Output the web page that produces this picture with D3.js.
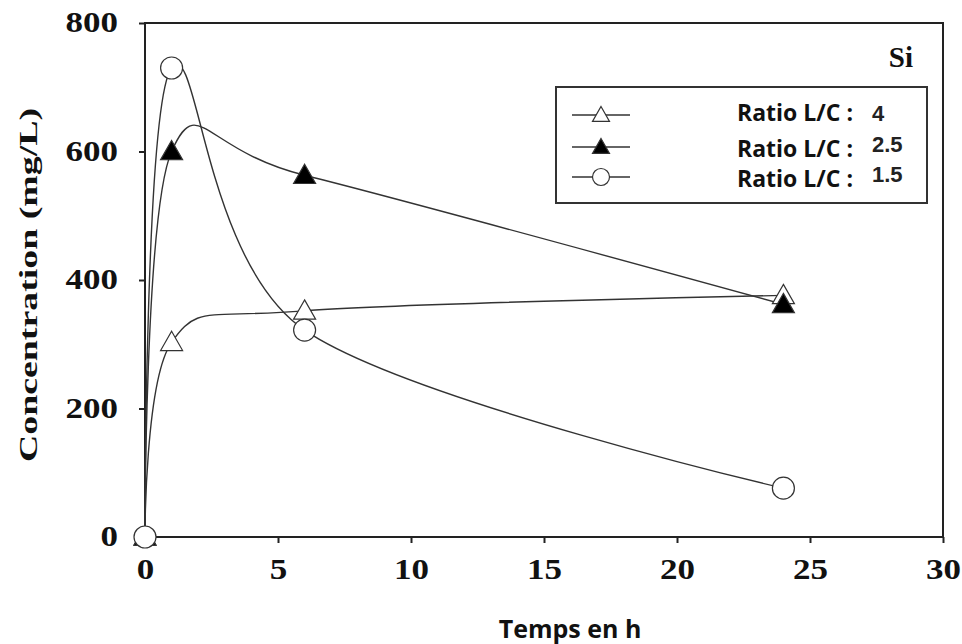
<!DOCTYPE html>
<html>
<head>
<meta charset="utf-8">
<script src="https://cdn.jsdelivr.net/npm/d3@7"></script>
<style>
  body { margin: 0; background: #fff; }
</style>
</head>
<body>
<div id="chart"></div>
<script>
// time in hours
var hours = [0, 1, 6, 24];
// concentration (mg/L) for each L/C ratio
var ratio4 = [0, 303, 352, 376];
var ratio25 = [0, 600, 563, 362];
var ratio15 = [0, 730, 322, 76];
var seriesNames = ["4", "2.5", "1.5"];
var xTicks = [0, 5, 10, 15, 20, 25, 30];
var yTicks = [0, 200, 400, 600, 800];

var width = 962
var height = 644
var margin = { left: 145, right: 19, top: 23, bottom: 107 }

var svg = d3.select("#chart")
    .append("svg")
    .attr("width", width)
    .attr("height", height)

var x = d3.scaleLinear().domain([0, 30]).range([margin.left, width - margin.right])
var y = d3.scaleLinear().domain([0, 800]).range([height - margin.bottom, margin.top])

// frame
svg.append("rect")
    .attr("x", x(0)).attr("y", y(800))
    .attr("width", x(30) - x(0)).attr("height", y(0) - y(800))
    .attr("fill", "none").attr("stroke", "#222").attr("stroke-width", 2)

// tick labels are a bit wide in the original, so stretch them
var styleTicks = (sel) => {
    sel.selectAll("line").attr("stroke", "#222").attr("stroke-width", 2)
    sel.selectAll("text")
        .attr("fill", "#111")
        .attr("textLength", (d) => String(d).length * 17.5)
        .attr("lengthAdjust", "spacingAndGlyphs")
        .style("font-family", "'Liberation Serif', serif")
        .style("font-weight", "bold")
        .style("font-size", "29px")
}

var xAxis = svg.append("g")
    .attr("transform", "translate(0," + y(0) + ")")
    .call(d3.axisBottom(x).tickValues(xTicks).tickSize(6).tickPadding(20))
xAxis.select(".domain").remove()
styleTicks(xAxis)
xAxis.selectAll("text").attr("dy", "0.55em")

var yAxis = svg.append("g")
    .attr("transform", "translate(" + x(0) + ",0)")
    .call(d3.axisLeft(y).tickValues(yTicks).tickSize(6).tickPadding(21))
yAxis.select(".domain").remove()
styleTicks(yAxis)
yAxis.selectAll("text").attr("dy", "0.3em")

// axis titles
svg.append("text")
    .attr("transform", "translate(37," + 285 + ") rotate(-90)")
    .attr("text-anchor", "middle")
    .attr("textLength", 354)
    .attr("lengthAdjust", "spacingAndGlyphs")
    .style("font-family", "'Liberation Serif', serif")
    .style("font-weight", "bold")
    .style("font-size", "26px")
    .attr("fill", "#111")
    .text("Concentration (mg/L)")

svg.append("text")
    .attr("x", 570)
    .attr("y", 638)
    .attr("text-anchor", "middle")
    .style("font-family", "'Open Sans', sans-serif")
    .style("font-weight", "bold")
    .style("font-size", "25px")
    .attr("fill", "#111")
    .text("Temps en h")

svg.append("text")
    .attr("x", 913).attr("y", 67)
    .attr("text-anchor", "end")
    .style("font-family", "'Liberation Serif', serif")
    .style("font-weight", "bold")
    .style("font-size", "29px")
    .attr("fill", "#111")
    .text("Si")

// series
var series = [
    { name: seriesNames[0], values: ratio4, shape: "triangle", fill: "#fff" },
    { name: seriesNames[1], values: ratio25, shape: "triangle", fill: "#000" },
    { name: seriesNames[2], values: ratio15, shape: "circle", fill: "#fff" }
]

var line = d3.line()
    .x((d) => { return x(d[0]) })
    .y((d) => { return y(d[1]) })
    .curve(d3.curveCardinal.tension(0))

var drawMarker = (g, s, px, py, r) => {
    if (s.shape == "circle") {
        g.append("circle")
            .attr("cx", px).attr("cy", py).attr("r", r)
            .attr("fill", s.fill).attr("stroke", "#333").attr("stroke-width", 1.2)
    } else {
        g.append("path")
            .attr("d", "M" + px + "," + (py - r) + "L" + (px + r) + "," + (py + r * 0.75) + "L" + (px - r) + "," + (py + r * 0.75) + "Z")
            .attr("fill", s.fill).attr("stroke", "#333").attr("stroke-width", 1.2)
    }
}

series.forEach((s) => {
    var pts = hours.map((h, i) => [h, s.values[i]])
    svg.append("path")
        .attr("d", line(pts))
        .attr("fill", "none")
        .attr("stroke", "#333")
        .attr("stroke-width", 1.4)
})
series.forEach((s) => {
    var g = svg.append("g")
    hours.forEach((h, i) => drawMarker(g, s, x(h), y(s.values[i]), 11))
})

// legend
var legend = svg.append("g")
legend.append("rect")
    .attr("x", 556).attr("y", 87).attr("width", 371).attr("height", 116)
    .attr("fill", "#fff").attr("stroke", "#333").attr("stroke-width", 2)

var rowsY = [115, 147, 177]
var labelY = [121, 157, 187]
var numY = [121, 152, 182]
series.forEach((s, i) => {
    var ry = rowsY[i]
    legend.append("line")
        .attr("x1", 572).attr("x2", 630).attr("y1", ry).attr("y2", ry)
        .attr("stroke", "#333").attr("stroke-width", 1.4)
    drawMarker(legend, s, 601, ry, 8.5)
    legend.append("text")
        .attr("x", 737).attr("y", labelY[i])
        .style("font-family", "'Open Sans', sans-serif")
        .style("font-weight", "bold")
        .style("font-size", "23px")
        .attr("fill", "#111")
        .text("Ratio L/C :")
    legend.append("text")
        .attr("x", 872).attr("y", numY[i])
        .style("font-family", "'Liberation Sans', sans-serif")
        .style("font-weight", "bold")
        .style("font-size", "22px")
        .attr("fill", "#222")
        .text(s.name)
})
</script>
</body>
</html>
